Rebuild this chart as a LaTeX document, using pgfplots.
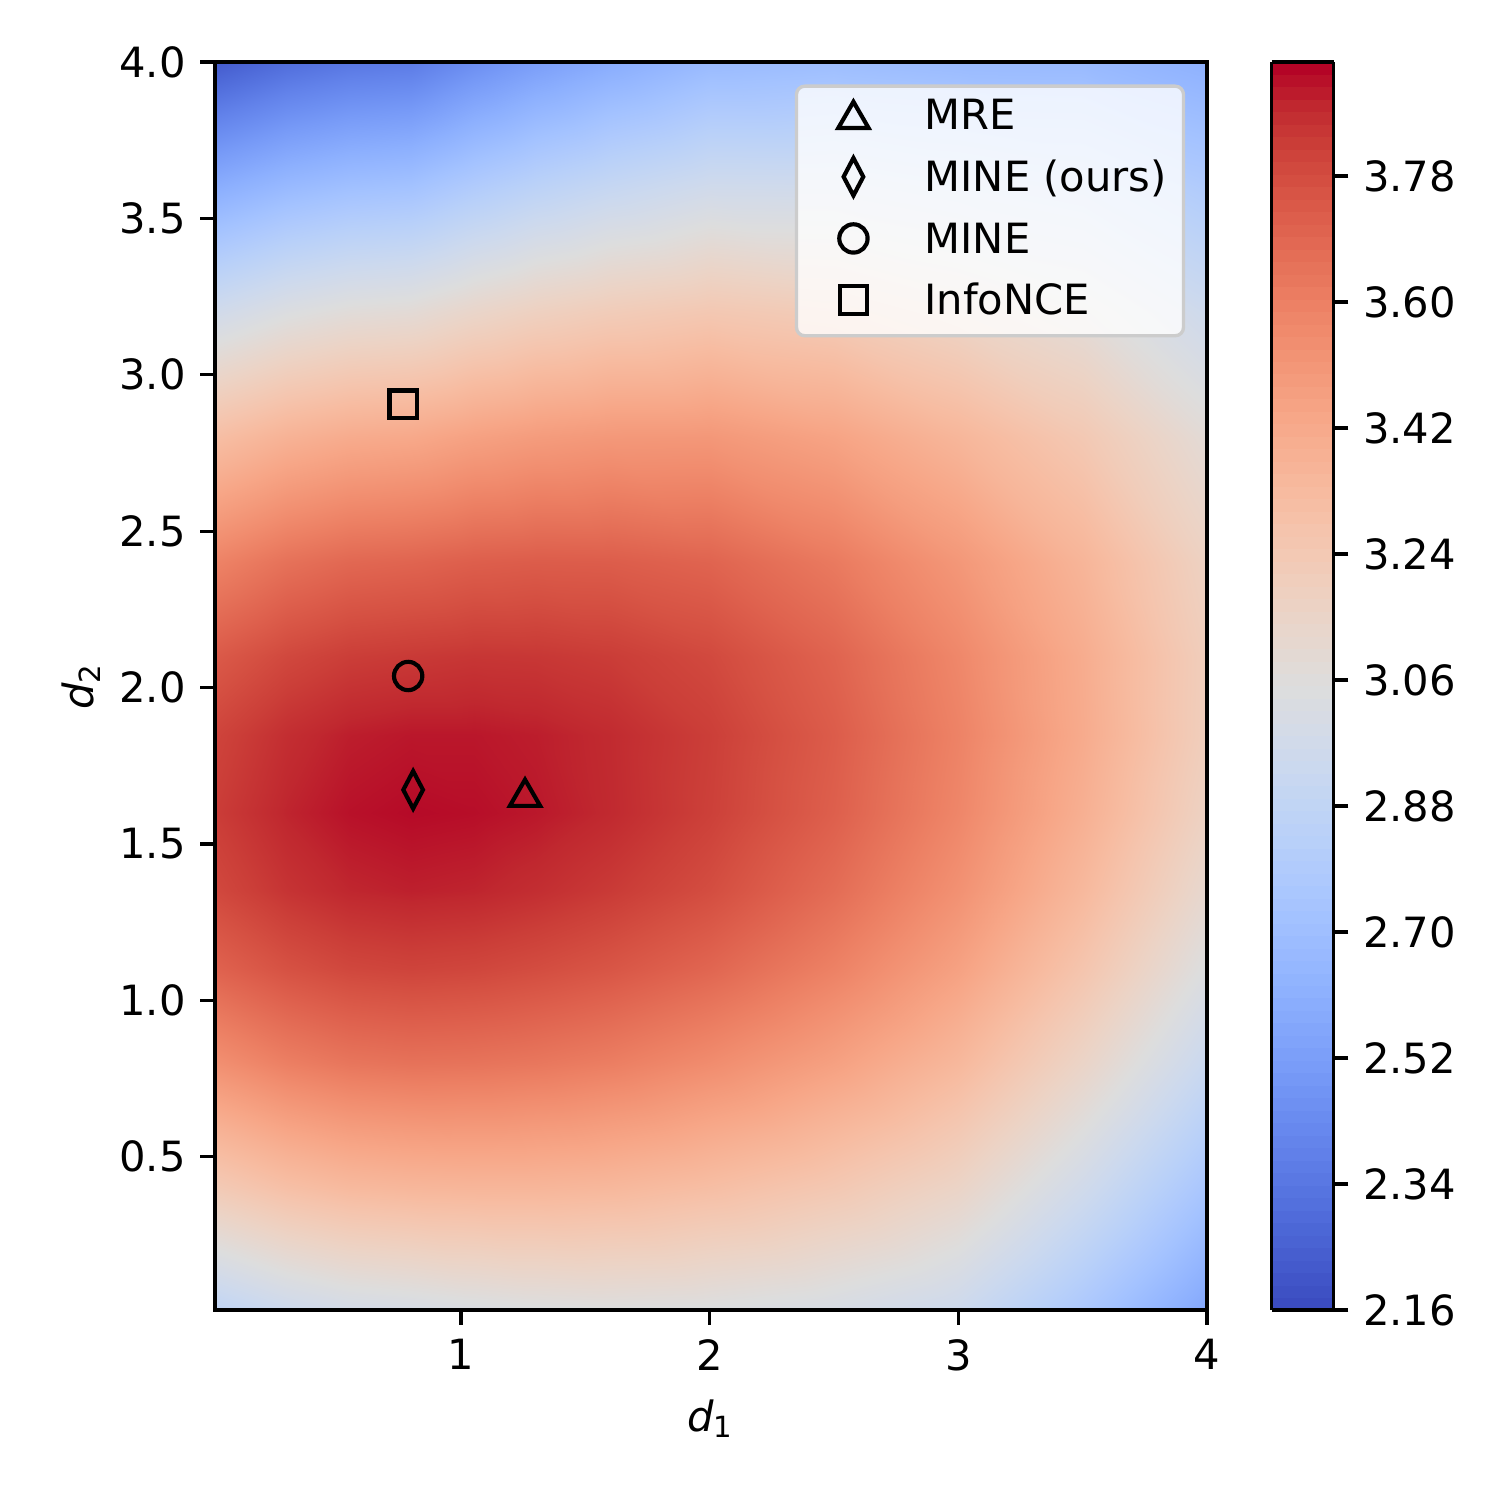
\documentclass[border=0pt]{standalone}
\usepackage{fontspec}
\setmainfont{DejaVu Sans}
\usepackage{pgfplots}
\usepackage{pgfplotstable}
\pgfplotsset{compat=1.18}
\pgfkeys{/pgf/number format/assume math mode=true}

\pgfplotsset{colormap={coolwarm}{
rgb255=(59,76,192) rgb255=(68,90,204) rgb255=(77,104,215) rgb255=(87,117,225)
rgb255=(98,130,234) rgb255=(108,142,241) rgb255=(119,154,247) rgb255=(130,165,251)
rgb255=(141,176,254) rgb255=(152,185,255) rgb255=(163,194,255) rgb255=(174,201,253)
rgb255=(184,208,249) rgb255=(194,213,244) rgb255=(204,217,238) rgb255=(213,219,230)
rgb255=(221,221,221) rgb255=(229,216,209) rgb255=(236,211,197) rgb255=(241,204,185)
rgb255=(245,196,173) rgb255=(247,187,160) rgb255=(247,177,148) rgb255=(247,166,135)
rgb255=(244,154,123) rgb255=(241,141,111) rgb255=(236,127,99) rgb255=(229,112,88)
rgb255=(222,96,77) rgb255=(213,80,66) rgb255=(203,62,56) rgb255=(192,40,47)
rgb255=(180,4,38)}}
\pgfplotsset{colormap={coolwarmbands}{samples of colormap=(100 of coolwarm)}}

\pgfplotstableread{
x y v
0.01 0.01 2.871
0.3 0.01 2.944
0.55 0.01 2.984
0.8 0.01 3.001
1.05 0.01 3.023
1.3 0.01 3.039
1.6 0.01 3.048
2.0 0.01 3.039
2.5 0.01 3.007
3.0 0.01 2.945
3.5 0.01 2.765
4.0 0.01 2.556
0.01 0.4 3.232
0.3 0.4 3.302
0.55 0.4 3.339
0.8 0.4 3.354
1.05 0.4 3.360
1.3 0.4 3.359
1.6 0.4 3.348
2.0 0.4 3.312
2.5 0.4 3.249
3.0 0.4 3.155
3.5 0.4 2.965
4.0 0.4 2.744
0.01 0.8 3.541
0.3 0.8 3.609
0.55 0.8 3.644
0.8 0.8 3.657
1.05 0.8 3.652
1.3 0.8 3.639
1.6 0.8 3.613
2.0 0.8 3.557
2.5 0.8 3.468
3.0 0.8 3.348
3.5 0.8 3.152
4.0 0.8 2.924
0.01 1.1 3.711
0.3 1.1 3.771
0.55 1.1 3.803
0.8 1.1 3.814
1.05 1.1 3.806
1.3 1.1 3.787
1.6 1.1 3.757
2.0 1.1 3.700
2.5 1.1 3.599
3.0 1.1 3.464
3.5 1.1 3.269
4.0 1.1 3.039
0.01 1.35 3.799
0.3 1.35 3.858
0.55 1.35 3.889
0.8 1.35 3.900
1.05 1.35 3.893
1.3 1.35 3.873
1.6 1.35 3.841
2.0 1.35 3.784
2.5 1.35 3.677
3.0 1.35 3.536
3.5 1.35 3.344
4.0 1.35 3.116
0.01 1.6 3.834
0.3 1.6 3.893
0.55 1.6 3.923
0.8 1.6 3.934
1.05 1.6 3.928
1.3 1.6 3.913
1.6 1.6 3.884
2.0 1.6 3.825
2.5 1.6 3.723
3.0 1.6 3.581
3.5 1.6 3.394
4.0 1.6 3.171
0.01 1.85 3.813
0.3 1.85 3.873
0.55 1.85 3.903
0.8 1.85 3.914
1.05 1.85 3.914
1.3 1.85 3.904
1.6 1.85 3.881
2.0 1.85 3.830
2.5 1.85 3.734
3.0 1.85 3.595
3.5 1.85 3.417
4.0 1.85 3.201
0.01 2.1 3.741
0.3 2.1 3.801
0.55 2.1 3.832
0.8 2.1 3.843
1.05 2.1 3.852
1.3 2.1 3.849
1.6 2.1 3.835
2.0 2.1 3.797
2.5 2.1 3.708
3.0 2.1 3.576
3.5 2.1 3.410
4.0 2.1 3.204
0.01 2.4 3.593
0.3 2.4 3.660
0.55 2.4 3.694
0.8 2.4 3.706
1.05 2.4 3.726
1.3 2.4 3.734
1.6 2.4 3.731
2.0 2.4 3.707
2.5 2.4 3.628
3.0 2.4 3.510
3.5 2.4 3.364
4.0 2.4 3.174
0.01 2.8 3.311
0.3 2.8 3.380
0.55 2.8 3.415
0.8 2.8 3.429
1.05 2.8 3.465
1.3 2.8 3.490
1.6 2.8 3.506
2.0 2.8 3.509
2.5 2.8 3.453
3.0 2.8 3.358
3.5 2.8 3.245
4.0 2.8 3.085
0.01 3.2 2.966
0.3 3.2 3.037
0.55 3.2 3.074
0.8 3.2 3.089
1.05 3.2 3.142
1.3 3.2 3.185
1.6 3.2 3.220
2.0 3.2 3.251
2.5 3.2 3.222
3.0 3.2 3.151
3.5 3.2 3.075
4.0 3.2 2.950
0.01 3.6 2.592
0.3 3.6 2.665
0.55 3.6 2.704
0.8 3.6 2.721
1.05 3.6 2.791
1.3 3.6 2.850
1.6 3.6 2.905
2.0 3.6 2.963
2.5 3.6 2.960
3.0 3.6 2.915
3.5 3.6 2.875
4.0 3.6 2.786
0.01 4.0 2.217
0.3 4.0 2.293
0.55 4.0 2.334
0.8 4.0 2.352
1.05 4.0 2.438
1.3 4.0 2.512
1.6 4.0 2.585
2.0 4.0 2.668
2.5 4.0 2.689
3.0 4.0 2.669
3.5 4.0 2.664
4.0 4.0 2.611
}\surfdata

\begin{document}
\begin{tikzpicture}
\begin{axis}[
  name=main,
  scale only axis,
  width=238.08pt, height=299.52pt,
  xmin=0.01, xmax=4, ymin=0.01, ymax=4,
  axis on top,
  colormap name=coolwarm,
  point meta min=2.16, point meta max=3.943,
  xtick={1,2,3,4},
  ytick={0.5,1.0,1.5,2.0,2.5,3.0,3.5,4.0},
  yticklabel style={/pgf/number format/.cd,fixed,fixed zerofill,precision=1},
  tick align=outside, tick pos=left,
  major tick length=3.5pt,
  every tick/.style={black, line width=0.8pt},
  axis line style={line width=0.8pt},
  tick label style={font=\normalsize},
  xlabel={\textit{d}\textsubscript{1}},
  ylabel={\textit{d}\textsubscript{2}},
  ylabel shift=-2.4pt,
  colorbar,
  colorbar style={
    at={(parent axis.north east)}, anchor=north west, xshift=7pt,
    scale only axis, width=14.88pt, height=299.52pt,
    colormap name=coolwarmbands, colormap access=piecewise constant,
    ytick={2.16,2.34,2.52,2.70,2.88,3.06,3.24,3.42,3.60,3.78},
    yticklabel style={/pgf/number format/.cd,fixed,fixed zerofill,precision=2},
    tick align=outside, ytick pos=right, major tick length=3.5pt,
    every tick/.style={black, line width=0.8pt},
    axis line style={line width=0.8pt},
  },
  legend style={at={(0.978,0.982)}, anchor=north east,
    fill=white, fill opacity=0.8, text opacity=1, draw=black!20,
    line width=0.8pt, rounded corners=2pt,
    inner xsep=2pt, inner ysep=2pt, row sep=3.3pt,
    nodes={inner ysep=1pt, text height=7.5pt, text depth=2pt},
    font=\normalsize},
  legend cell align=left,
  legend image code/.code={\path[draw=none] (0,0) -- (0.94cm,0); \draw[#1] plot coordinates {(0.41cm,0.8pt)};},
]
\addplot[surf, shader=interp, mesh/cols=12, point meta=explicit, forget plot]
  table[x=x, y=y, meta=v] {\surfdata};

\addplot[only marks, black, line width=1pt, mark=triangle, mark size=4.2pt,
  mark options={solid, yshift=-1pt}] coordinates {(1.257,1.663)};
\addlegendentry{MRE}
\addplot[only marks, black, line width=1pt, mark=diamond, mark size=4.5pt,
  mark options={solid, xscale=0.7}] coordinates {(0.807,1.673)};
\addlegendentry{MINE (ours)}
\addplot[only marks, black, line width=1pt, mark=o, mark size=3.4pt,
  mark options={solid}] coordinates {(0.787,2.037)};
\addlegendentry{MINE}
\addplot[only marks, black, line width=1pt, mark=square, mark size=3.3pt,
  mark options={solid}] coordinates {(0.767,2.906)};
\addlegendentry{InfoNCE}
\end{axis}
\path (main.south west) ++(-51.6pt,-45.6pt) rectangle ++(360pt,360pt);
\end{tikzpicture}
\end{document}
